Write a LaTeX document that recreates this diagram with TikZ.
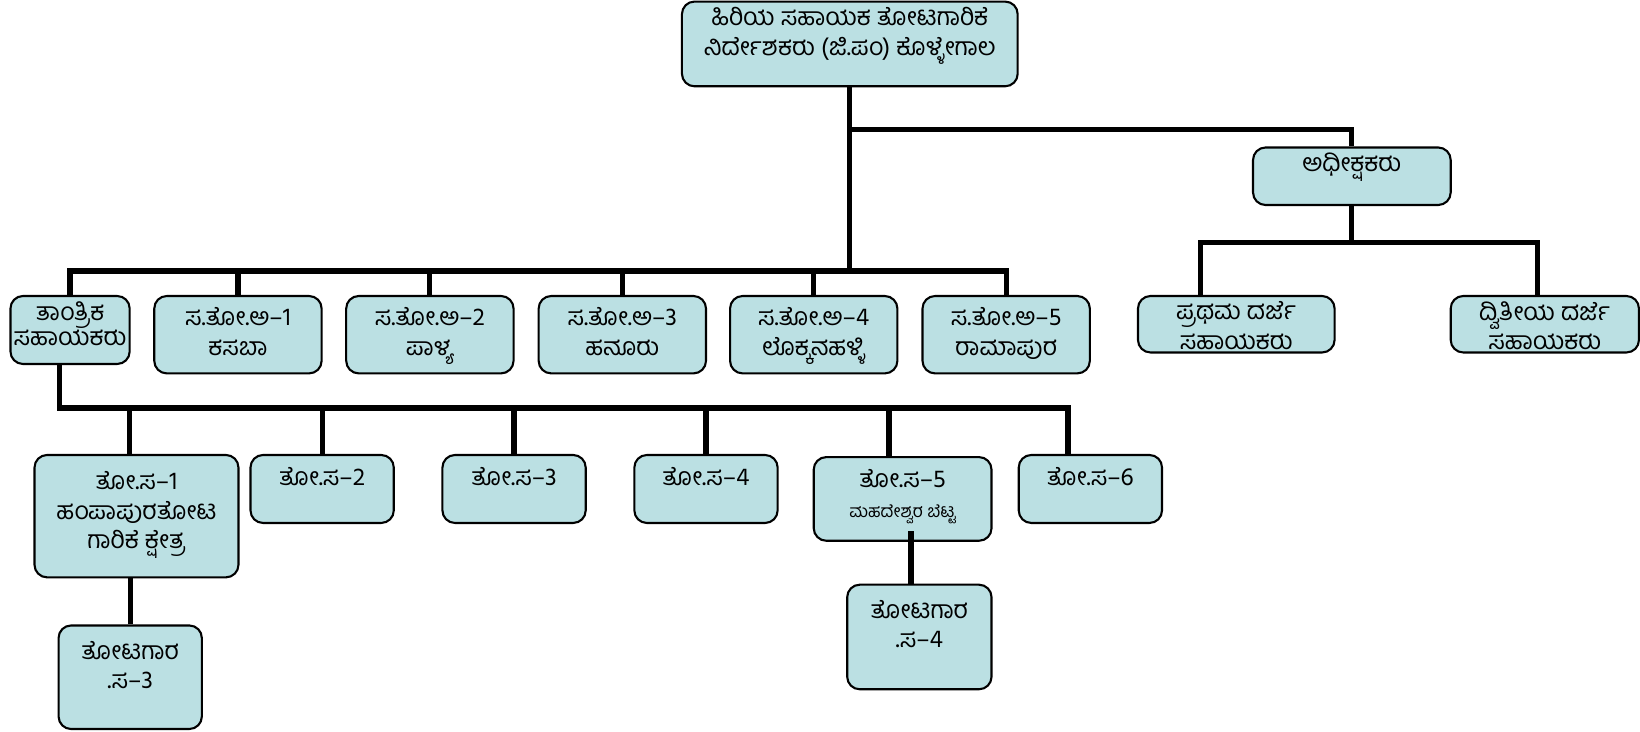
\documentclass[tikz,border=0pt]{standalone}
\usepackage{fontspec}
\newfontfamily\kannada[Script=Kannada]{Hind Mysuru}
\definecolor{boxblue}{RGB}{187,224,227}
\newlength\pxu
\setlength\pxu{0.2mm}
\newcommand\posttext[4][1.1mm]{\parbox[c][#3\pxu][t]{#2\pxu}{\centering\vspace{#1}#4\par}}

\begin{document}
\begin{tikzpicture}[x=0.2mm,y=-0.2mm]
	\tikzset{
	  post/.style={draw=black,line width=0.4mm,rounded corners=2.4mm,fill=boxblue,
	    inner sep=0pt,font=\kannada\fontsize{13.5}{16}\selectfont},
	  wire/.style={black,line width=1mm}
	}
	\useasboundingbox (0,0) rectangle (1568,699);

        %HEAD
        \node[post] (head) at (812.5,42) {\posttext{321}{81}{ಹಿರಿಯ ಸಹಾಯಕ ತೋಟಗಾರಿಕೆ\\ನಿರ್ದೇಶಕರು (ಜಿ.ಪಂ) ಕೊಳ್ಳೇಗಾಲ}};
        \node[post] (sup) at (1292.5,168.5) {\posttext{189}{55}{ಅಧೀಕ್ಷಕರು}};

        %ROW 1
        \node[post] (tant) at (67,315.5) {\posttext{114}{65}{ತಾಂತ್ರಿಕ\\[-0.8mm]ಸಹಾಯಕರು}};
        \foreach \n/\x/\place in {1/227.5/ಕಸಬಾ,2/411/ಪಾಳ್ಯ,3/595/ಹನೂರು,4/778/ಲೊಕ್ಕನಹಳ್ಳಿ,5/962/ರಾಮಾಪುರ}
          \node[post] (a\n) at (\x,320) {\posttext[2.2mm]{160}{74}{ಸ.ತೋ.ಅ–\n\\\place}};
        \node[post] (first) at (1182,310) {\posttext{188}{54}{ಪ್ರಥಮ ದರ್ಜೆ\\ಸಹಾಯಕರು}};
        \node[post] (second) at (1477,310) {\posttext{180}{54}{ದ್ವಿತೀಯ ದರ್ಜೆ\\ಸಹಾಯಕರು}};

        %ROW 2
        \node[post] (ts1) at (130.5,493.5) {\posttext[3.2mm]{195}{117}{ತೋ.ಸ–1\\ಹಂಪಾಪುರತೋಟ\\ಗಾರಿಕೆ ಕ್ಷೇತ್ರ}};
        \foreach \n/\x in {2/308,3/491.5,4/675,6/1042.5}
          \node[post] (ts\n) at (\x,467.5) {\posttext[2.4mm]{137}{65}{ತೋ.ಸ–\n}};
        \node[post] (ts5) at (863,477) {\posttext[2.4mm]{170}{80}{ತೋ.ಸ–5\\{\fontsize{9.5}{12.5}\selectfont ಮಹದೇಶ್ವರ ಬೆಟ್ಟ}}};

        %ROW 3
        \node[post] (gard3) at (124.5,647.5) {\posttext[3mm]{137}{99}{ತೋಟಗಾರ\\.ಸ–3}};
        \node[post] (gard4) at (879,609) {\posttext[3mm]{138}{100}{ತೋಟಗಾರ\\.ಸ–4}};

        %BUSES
        \coordinate (supbus) at (0,124);
        \coordinate (clerkbus) at (0,259);
        \coordinate (gradebus) at (0,232);
        \coordinate (fieldbus) at (0,390);
        \coordinate (dA) at (1148,0);
        \coordinate (dB) at (1470,0);
        \coordinate (ft) at (57,0);
        \coordinate (f1) at (124,0);
        \coordinate (f5) at (850,0);
        \coordinate (f6) at (1021,0);
        \coordinate (f7) at (871,508);

        %HEAD LINES
        \draw[wire] (head.south) -- (head.south |- clerkbus);
        \draw[wire] (head.south |- supbus) -| (sup.north);
        \draw[wire] (tant.north) |- (a5.north |- clerkbus) -- (a5.north);
        \foreach \n in {1,...,4}
          \draw[wire] (a\n.north) -- (a\n.north |- clerkbus);

        %GRADE LINES
        \draw[wire] (sup.south) -- (sup.south |- gradebus);
        \draw[wire] (first.north -| dA) -- (dA |- gradebus) -- (dB |- gradebus) -- (second.north -| dB);

        %FIELD LINES
        \draw[wire] (tant.south -| ft) -- (ft |- fieldbus) -- (f6 |- fieldbus) -- (ts6.north -| f6);
        \draw[wire] (ts1.north -| f1) -- (f1 |- fieldbus);
        \foreach \n in {2,3,4}
          \draw[wire] (ts\n.north) -- (ts\n.north |- fieldbus);
        \draw[wire] (ts5.north -| f5) -- (f5 |- fieldbus);
        \draw[wire] (gard3.north) -- (gard3.north |- ts1.south);
        \draw[wire] (f7) -- (gard4.north -| f7);
\end{tikzpicture}
\end{document}
